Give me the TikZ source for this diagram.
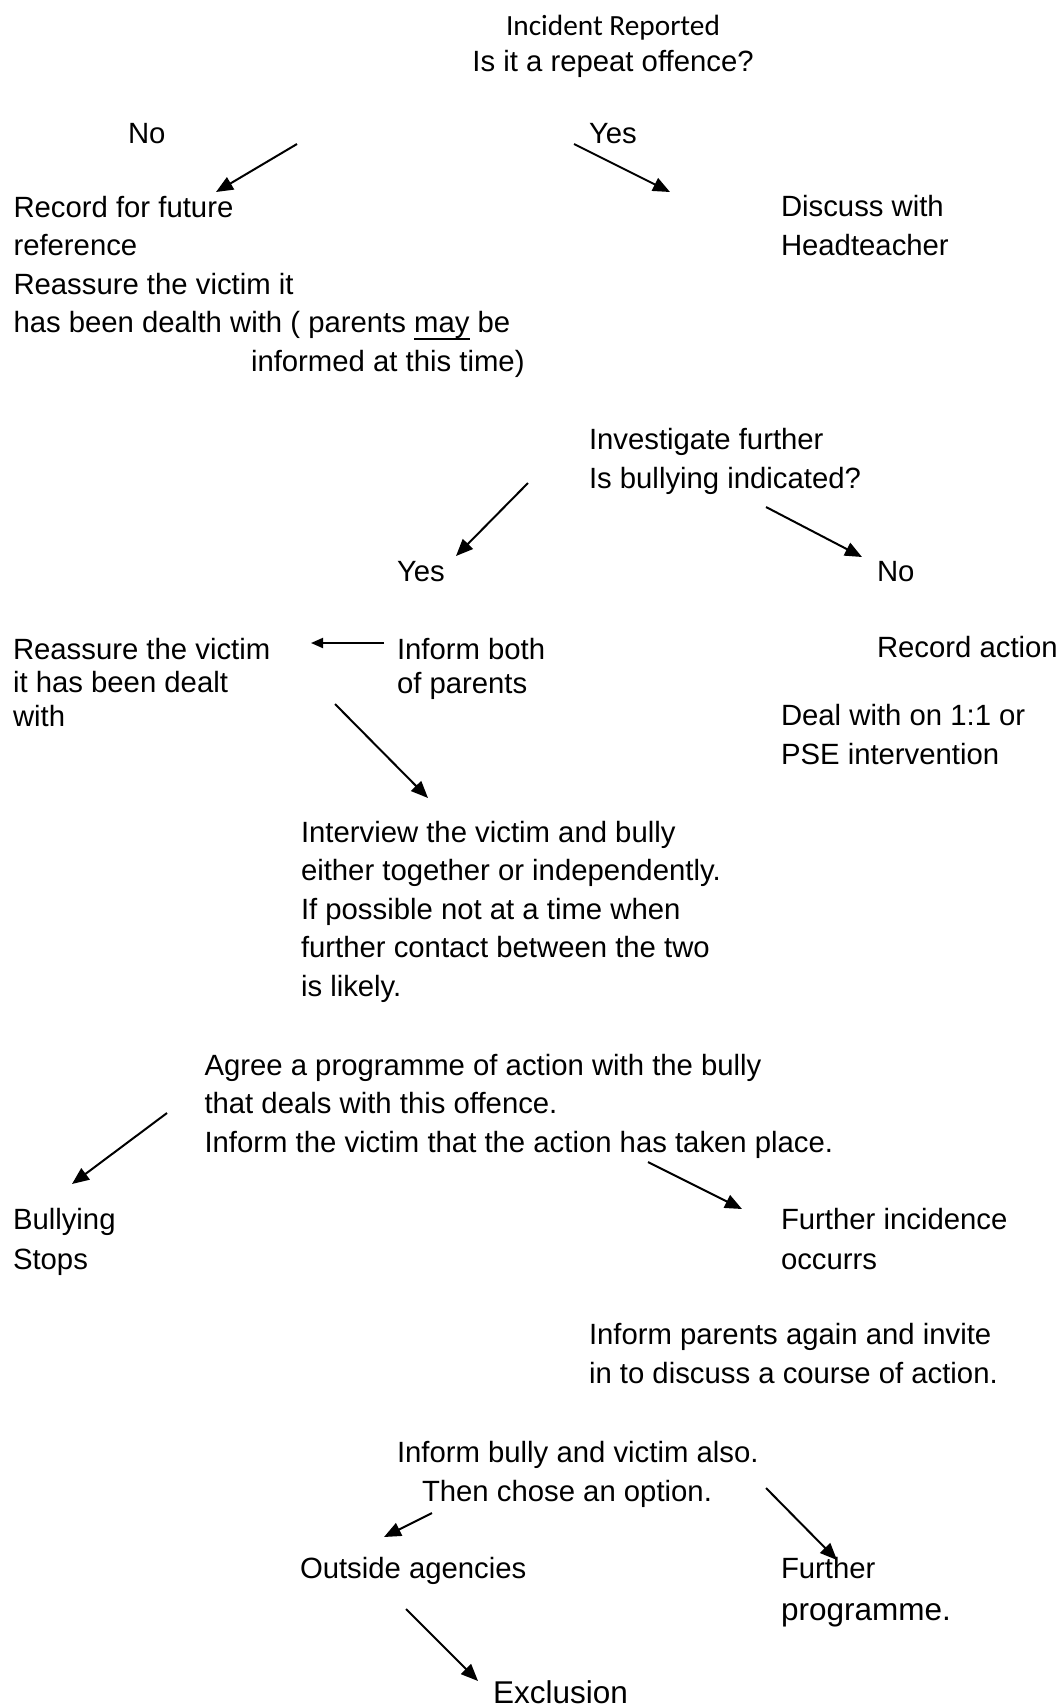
\documentclass[tikz,border=0pt]{standalone}
\usepackage{fontspec}
\setmainfont{Liberation Sans}
\newfontfamily\calibrifont{Carlito}
\usetikzlibrary{arrows.meta}
\definecolor{Ink}{HTML}{000000}
\newcommand{\bodyfont}{\fontsize{29.3}{38.5}\selectfont}
\newcommand{\bigfont}{\fontsize{31.5}{38.5}\selectfont}
\newlength{\ulwidth}
\newcommand{\ulword}[1]{\settowidth{\ulwidth}{#1}\rlap{\rule[-7pt]{\ulwidth}{1.8pt}}#1}
\tikzset{
  note/.style={
    anchor=base west, inner sep=0pt, outer sep=0pt, align=left,
    font=\bodyfont, text=Ink
  },
  tight/.style={font=\fontsize{29.3}{33.5}\selectfont},
  flow/.style={-{Triangle[length=17pt,width=14pt]}, line width=2pt, draw=Ink},
  shortflow/.style={-{Triangle[length=12pt,width=10pt]}, line width=2pt, draw=Ink}
}

\begin{document}
\begin{tikzpicture}[x=1pt,y=-1pt]
  \useasboundingbox (0,0) rectangle (1058,1706);
  % first question (nodes sit on the baseline of their last line)
  \node[note,anchor=base,align=center] (start) at (613,71)
    {{\calibrifont Incident Reported}\\[-2.5pt]Is it a repeat offence?};
  \node[note] (noA) at (128,143) {No};
  \node[note] (yesA) at (589,143) {Yes};
  \node[note] (record) at (13.5,371) {Record for future\\reference\\Reassure the victim it\\
    has been dealth with ( parents \ulword{may} be\\\hspace*{237.5pt}informed at this time)};
  \node[note] (discuss) at (781,255) {Discuss with\\Headteacher};
  % second question
  \node[note] (investigate) at (589,488) {Investigate further\\Is bullying indicated?};
  \node[note] (yesB) at (397,581) {Yes};
  \node[note] (noB) at (877,581) {No};
  \node[note,tight] (reassure) at (13,726) {Reassure the victim\\it has been dealt\\with};
  \node[note,tight] (informboth) at (397,693) {Inform both\\of parents};
  \node[note] (recordaction) at (877,657) {Record action};
  \node[note] (dealwith) at (781,764) {Deal with on 1:1 or\\PSE intervention};
  \node[note] (interview) at (301,996) {Interview the victim and bully\\
    either together or independently.\\If possible not at a time when\\
    further contact between the two\\is likely.};
  \node[note] (agree) at (204.5,1152) {Agree a programme of action with the bully\\
    that deals with this offence.\\Inform the victim that the action has taken place.};
  \node[note] (stops) at (13,1269) {Bullying\\[1.5pt]Stops};
  \node[note] (incidence) at (781,1269) {Further incidence\\[1.5pt]occurrs};
  \node[note] (again) at (589,1383) {Inform parents again and invite\\
    in to discuss a course of action.};
  \node[note] (option) at (397,1501) {Inform bully and victim also.\\
    \hspace*{25pt}Then chose an option.};
  \node[note] (outside) at (300,1578) {Outside agencies};
  \node[note] (programme) at (781,1620) {Further\\[3.5pt]{\bigfont programme.}};
  \node[note,font=\bigfont] (exclusion) at (493,1703) {Exclusion};
  % arrow ends
  \coordinate (noA-s) at (297,144);   \coordinate (noA-e) at (216,192);
  \coordinate (yesA-s) at (574,144);  \coordinate (yesA-e) at (670,192);
  \coordinate (yesB-s) at (528,483);  \coordinate (yesB-e) at (456,556);
  \coordinate (noB-s) at (766,507);   \coordinate (noB-e) at (862,557);
  \coordinate (back-s) at (384,643);  \coordinate (back-e) at (311,643);
  \coordinate (meet-s) at (335,704);  \coordinate (meet-e) at (428,798);
  \coordinate (stops-s) at (167,1113); \coordinate (stops-e) at (72,1184);
  \coordinate (again-s) at (648,1162); \coordinate (again-e) at (742,1209);
  \coordinate (out-s) at (432,1513);  \coordinate (out-e) at (384,1537);
  \coordinate (prog-s) at (766,1488); \coordinate (prog-e) at (837,1560);
  \coordinate (excl-s) at (406,1609); \coordinate (excl-e) at (478,1681);
  \draw[flow] (noA-s) -- (noA-e);
  \draw[flow] (yesA-s) -- (yesA-e);
  \draw[flow] (yesB-s) -- (yesB-e);
  \draw[flow] (noB-s) -- (noB-e);
  \draw[shortflow] (back-s) -- (back-e);
  \draw[flow] (meet-s) -- (meet-e);
  \draw[flow] (stops-s) -- (stops-e);
  \draw[flow] (again-s) -- (again-e);
  \draw[flow] (out-s) -- (out-e);
  \draw[flow] (prog-s) -- (prog-e);
  \draw[flow] (excl-s) -- (excl-e);
\end{tikzpicture}
\end{document}
